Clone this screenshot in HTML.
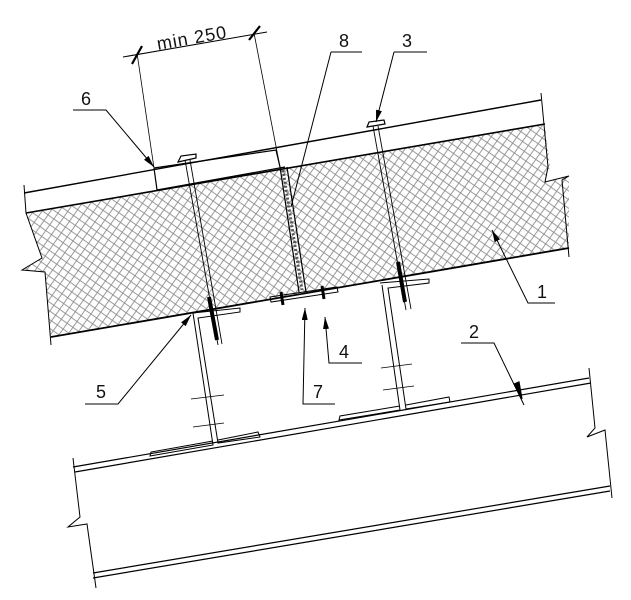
<!DOCTYPE html>
<html><head><meta charset="utf-8"><style>
html,body{margin:0;padding:0;background:#fff;}
svg{display:block;}
text{font-family:"Liberation Sans",sans-serif;font-size:18px;fill:#111;}
</style></head><body>
<svg width="631" height="600" viewBox="0 0 631 600" xmlns="http://www.w3.org/2000/svg">
<defs>
<pattern id="h" width="10" height="10" patternUnits="userSpaceOnUse" patternTransform="rotate(-10)">
<path d="M0,0 L10,10 M10,0 L0,10" stroke="#888" stroke-width="0.8"/>
</pattern>
<marker id="a" markerWidth="12" markerHeight="6" refX="12" refY="3" orient="auto" markerUnits="userSpaceOnUse">
<path d="M0,0 L12,3 L0,6 Z" fill="#000"/>
</marker>
</defs>
<g stroke="#000" fill="none" stroke-width="1.2">
<path d="M26,213 L545,124 L550,167 L545,182 L569,176 L569,248 L51,337 L45,272 L22,270 L42,258 Z" fill="url(#h)" stroke="none"/>
<line x1="24" y1="193" x2="541" y2="100" stroke-width="1.4"/>
<line x1="26" y1="213" x2="545" y2="124" stroke-width="1.6"/>
<line x1="51" y1="337" x2="569" y2="248" stroke-width="1.8"/>
<path d="M24,185 L26,213 L42,258 L22,270 L45,272 L51,345" stroke-width="1"/>
<path d="M541,93 L548,167 L545,182 L569,176 L562,180 L569,257" stroke-width="1"/>
<path d="M154,168 L276,150 L280,167 M157,190 L154,168 M157,190 L285,167 L283,168" stroke-width="1.2"/>
<path d="M280,167 L299,292 M287,167 L306,292" stroke-width="1.2"/>
<line x1="283" y1="170" x2="302" y2="290" stroke="#555" stroke-width="3" stroke-dasharray="2,2"/>
<path d="M270,297 L337,287 L338,292 L271,302 Z" stroke-width="1"/>
<path d="M281,292 L283,305 M322,286 L324,299" stroke-width="3"/>
<path d="M185,160 L218,345 M190,160 L222,344" stroke-width="0.9"/>
<path d="M178,162 L196,158 L196,154 L181,156 Z" fill="#fff"/>
<line x1="209" y1="297" x2="217" y2="340" stroke-width="4"/>
<path d="M373,126 L406,310 M378,126 L411,309" stroke-width="0.9"/>
<path d="M367,127 L385,124 L384,120 L369,122 Z" fill="#fff"/>
<line x1="398" y1="262" x2="405" y2="302" stroke-width="4"/>
<path d="M193,313 L240,308 L240,312 L198,318 L218,443 L260,437 L258,432 L218,440" stroke-width="1"/>
<path d="M193,313 L213,445 L150,456 L151,452 L213,441" stroke-width="1"/>
<path d="M191,399 L224,395 M193,427 L224,423" stroke-width="0.8"/>
<path d="M380,283 L429,279 L429,283 L388,288 L406,409 L450,402 L449,397 L406,405" stroke-width="1"/>
<path d="M382,285 L400,410 L339,420 L340,416 L400,406" stroke-width="1"/>
<path d="M381,368 L412,364 M383,390 L414,386" stroke-width="0.8"/>
<line x1="73" y1="467" x2="589" y2="378"/>
<line x1="75" y1="472" x2="591" y2="383"/>
<line x1="93" y1="573" x2="610" y2="486"/>
<line x1="93" y1="578" x2="610" y2="491"/>
<path d="M73,458 L80,517 L68,527 L87,524 L96,588" stroke-width="1"/>
<path d="M589,368 L595,428 L587,437 L605,430 L612,498" stroke-width="1"/>
<line x1="123" y1="57" x2="267" y2="32" stroke-width="1"/>
<line x1="137" y1="53" x2="154" y2="168" stroke-width="0.8"/>
<line x1="254" y1="33" x2="280" y2="167" stroke-width="0.8"/>
<path d="M132,64 L142,46 M249,40 L260,26" stroke-width="2.2"/>
<path d="M331,52 L362,52 M331,52 L291,207" stroke-width="1"/>
<path d="M394,52 L427,52 M394,52 L376,122" stroke-width="1" marker-end="url(#a)"/>
<path d="M73,110 L106,110 L154,167" stroke-width="1" marker-end="url(#a)"/>
<path d="M555,303 L528,303 L492,230" stroke-width="1" marker-end="url(#a)"/>
<path d="M85,404 L118,404 L191,315" stroke-width="1" marker-end="url(#a)"/>
<path d="M362,363 L329,363 L325,317" stroke-width="1" marker-end="url(#a)"/>
<path d="M335,404 L303,404 L305,308" stroke-width="1" marker-end="url(#a)"/>
<path d="M461,343 L494,343 L524,405" stroke-width="1"/>
<path d="M514,384 L522,399 L519,382 Z" fill="#000"/>
</g>
<text x="158" y="50" transform="rotate(-10 158 50)" textLength="70">min 250</text>
<text x="339" y="47">8</text>
<text x="402" y="47">3</text>
<text x="81" y="105">6</text>
<text x="537" y="298">1</text>
<text x="96" y="398">5</text>
<text x="339" y="358">4</text>
<text x="313" y="398">7</text>
<text x="469" y="338">2</text>
</svg>
</body></html>
